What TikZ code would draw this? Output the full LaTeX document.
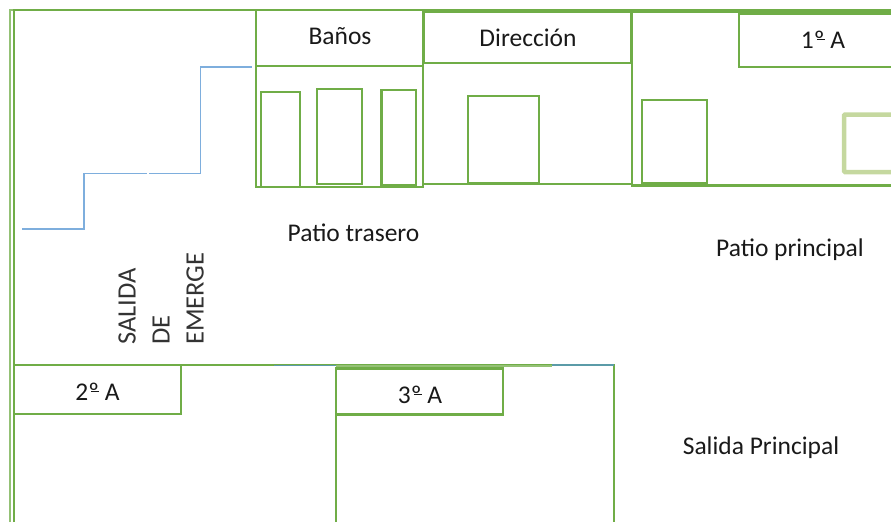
\documentclass[tikz,border=0pt]{standalone}
\usepackage{fontspec}
\setmainfont{Carlito}
\definecolor{wall}{HTML}{70AD47}
\definecolor{paleWall}{HTML}{C5D89F}
\definecolor{route}{HTML}{7EAEDD}
\definecolor{tealLine}{HTML}{5B9BA8}
\newcommand{\ordbar}{º\llap{\rule[0.33em]{0.3em}{0.06em}}}
\tikzset{
    wall/.style={draw=wall, line width=2.6pt},
    thinWall/.style={draw=wall, line width=2.1pt},
    route/.style={draw=route, line width=1.3pt},
    label/.style={font=\fontsize{25.5}{28}\selectfont, text=black!90, inner sep=0pt},
    sideLabel/.style={label, font=\fontsize{26.5}{28}\selectfont, text=black!80, rotate=90, anchor=west},
}
\begin{document}
\begin{tikzpicture}[x=1pt, y=-1pt]
    \useasboundingbox (0, 0) rectangle (891, 522);
    % outer walls
    \draw[wall, draw=wall!75] (10, 522) to (10, 10) to (256, 10);
    \draw[wall] (14, 522) to (14, 10) to (891, 10);
    % wash rooms
    \draw[wall] (256, 10) rectangle (423, 66);
    \draw[wall] (256, 66) rectangle (423, 187);
    \draw[wall] (261, 92) rectangle (300, 187);
    \draw[wall] (317, 89) rectangle (362, 184);
    \draw[wall] (381.5, 90) rectangle (416, 185);
    % office
    \draw[wall] (424, 12) rectangle (631, 63);
    \draw[thinWall] (423, 63) to (423, 184) to (632, 184);
    \draw[wall] (468, 96) rectangle (539, 183);
    % first classroom
    \draw[wall] (891, 12) to (632, 12) to (632, 185.5) to (891, 185.5);
    \draw[wall] (891, 14) to (739, 14) to (739, 67) to (891, 67);
    \draw[wall] (642, 100) rectangle (707, 183.5);
    \draw[draw=paleWall, line width=4.5pt, rounded corners=1pt] (891, 114.5) to (844, 114.5) to (844, 172) to (891, 172);
    % lower classrooms
    \draw[thinWall] (14, 365) to (614, 365) to (614, 522);
    \draw[wall] (14, 365) rectangle (181, 414);
    \draw[wall] (336, 522) to (336, 368.5) to (503, 368.5) to (503, 414.5) to (336, 414.5);
    \draw[draw=wall!75, line width=1.5pt] (336, 366) to (552, 366);
    \draw[draw=tealLine, line width=1.5pt] (274, 365.5) to (336, 365.5);
    \draw[draw=tealLine, line width=1.5pt] (552, 365) to (614, 365);
    % emergency route
    \draw[route] (22, 229) to (84, 229) to (84, 173.5) to (146.5, 173.5);
    \draw[route] (149, 173.5) to (200.5, 173.5) to (200.5, 67) to (252, 67);
    % labels
    \node[label] (banos) at (340, 36) {Baños};
    \node[label] (direccion) at (528, 38) {Dirección};
    \node[label] (primero) at (823, 40) {1\ordbar{} A};
    \node[label] (segundo) at (97.5, 392) {2\ordbar{} A};
    \node[label] (tercero) at (420, 395) {3\ordbar{} A};
    \node[label] (trasero) at (353.5, 233) {Patio trasero};
    \node[label] (patio) at (790, 250) {Patio principal};
    \node[label] (salida) at (761, 448) {Salida Principal};
    \node[sideLabel] (salidaEm) at (127, 345) {SALIDA};
    \node[sideLabel] (de) at (161, 345) {DE};
    \node[sideLabel] (emerge) at (195, 345) {EMERGE};
\end{tikzpicture}
\end{document}
